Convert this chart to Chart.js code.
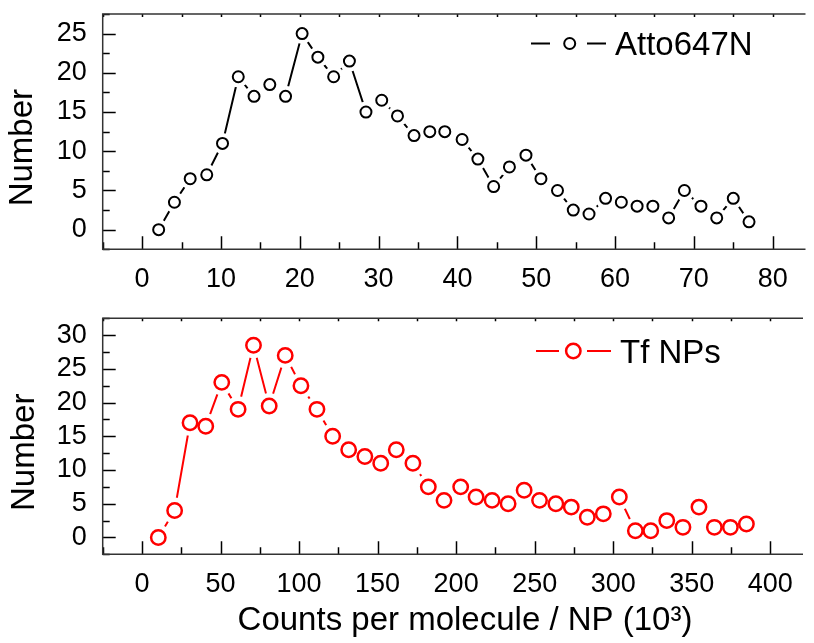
<!DOCTYPE html>
<html><head><meta charset="utf-8">
<script src="https://cdn.jsdelivr.net/npm/chart.js@4.4.0/dist/chart.umd.min.js"></script>
<style>
html,body{margin:0;padding:0;background:#fff;overflow:hidden;width:814px;height:643px;position:relative;}
canvas{position:absolute;left:0;}
#c1{top:0}
#c2{top:300px}
</style></head><body>
<canvas id="c1" width="814" height="300"></canvas>
<canvas id="c2" width="814" height="343"></canvas>
<script>
// ---- data ----
const attoX = [2.1,4.1,6.1,8.2,10.2,12.2,14.2,16.2,18.2,20.3,22.3,24.3,26.3,28.4,30.4,32.4,34.5,36.5,38.4,40.6,42.6,44.6,46.6,48.7,50.6,52.7,54.7,56.7,58.8,60.8,62.8,64.8,66.8,68.8,70.9,72.9,75.0,77.0];
const attoY = [0,3.5,6.5,7,11,19.5,17,18.5,17,25,22,19.5,21.5,15,16.5,14.5,12,12.5,12.5,11.5,9,5.5,8,9.5,6.5,5,2.5,2,4,3.5,3,3,1.5,5,3,1.5,4,1];
const tfX = [10.4,20.8,30.6,40.6,50.8,61.2,71,81,91.2,101.2,111.4,121.4,131.6,141.9,152,161.9,172.5,182.3,192.3,202.9,212.7,222.9,233.1,243.3,253.1,263.5,273.3,283.5,293.7,303.9,314.1,323.9,334.1,344.4,354.6,364.4,374.6,384.8];
const tfY = [0,4,17,16.5,23,19,28.5,19.5,27,22.5,19,15,13,12,11,13,11,7.5,5.5,7.5,6,5.5,5,7,5.5,5,4.5,3,3.5,6,1,1,2.5,1.5,4.5,1.5,1.5,2];
const topXTicks = [0,10,20,30,40,50,60,70,80];
const topYTicks = [0,5,10,15,20,25];
const botXTicks = [0,50,100,150,200,250,300,350,400];
const botYTicks = [0,5,10,15,20,25,30];
const seriesNames = ['Atto647N','Tf NPs'];
const yTitle = 'Number';
const xTitle = 'Counts per molecule / NP (10\u00B3)';

const FONT = "'Liberation Sans', Arial, Helvetica, sans-serif";

function build(id, o) {
  const deco = {
    id: 'deco_' + id,
    afterDraw(chart) {
      const ctx = chart.ctx, a = chart.chartArea, x = chart.scales.x, y = chart.scales.y;
      ctx.save();
      // inward ticks
      ctx.strokeStyle = '#000';
      ctx.lineWidth = 1.5;
      ctx.beginPath();
      for (let v = o.xTickStart; v <= o.xmax + 1e-9; v += o.xMinor) {
        const px = Math.round(x.getPixelForValue(v)) + 0.5;
        const major = Math.abs((v / o.xMajor) - Math.round(v / o.xMajor)) < 1e-6;
        const len = major ? 13 : 7;
        ctx.moveTo(px, a.bottom); ctx.lineTo(px, a.bottom - len);
        ctx.moveTo(px, a.top); ctx.lineTo(px, a.top + 3);
      }
      for (let v = o.ymin; v <= o.ymax + 1e-9; v += o.yMinor) {
        const py = Math.round(y.getPixelForValue(v)) + 0.5;
        const major = Math.abs((v / o.yMajor) - Math.round(v / o.yMajor)) < 1e-6;
        const len = major ? 13 : 7;
        ctx.moveTo(a.left, py); ctx.lineTo(a.left + len, py);
      }
      ctx.stroke();
      // frame (right side lies outside the picture)
      ctx.strokeStyle = '#333';
      ctx.lineWidth = 1.5;
      ctx.beginPath();
      ctx.moveTo(a.right + 2, a.top); ctx.lineTo(a.left, a.top);
      ctx.lineTo(a.left, a.bottom); ctx.lineTo(a.right + 2, a.bottom);
      ctx.stroke();
      // y title
      ctx.fillStyle = '#000';
      ctx.font = '33px ' + FONT;
      ctx.textAlign = 'center';
      ctx.textBaseline = 'middle';
      ctx.translate(o.yTitleX, (a.top + a.bottom) / 2 + 16);
      ctx.rotate(-Math.PI / 2);
      ctx.fillText(yTitle, 0, 0);
      ctx.setTransform(1, 0, 0, 1, 0, 0);
      // x title
      if (o.xTitle) {
        ctx.textAlign = 'center';
        ctx.textBaseline = 'middle';
        ctx.fillText(o.xTitle, a.left + 362.3, o.xTitleY);
      }
      // legend
      const L = o.legend;
      ctx.strokeStyle = o.color;
      ctx.lineWidth = 2;
      ctx.beginPath();
      ctx.moveTo(L.l1[0], L.y); ctx.lineTo(L.l1[1], L.y);
      ctx.moveTo(L.l2[0], L.y); ctx.lineTo(L.l2[1], L.y);
      ctx.stroke();
      ctx.lineWidth = o.bw;
      ctx.beginPath();
      ctx.arc(L.cx, L.y, o.r, 0, Math.PI * 2);
      ctx.fillStyle = '#fff';
      ctx.fill();
      ctx.stroke();
      ctx.fillStyle = '#000';
      ctx.textAlign = 'left';
      ctx.textBaseline = 'alphabetic';
      ctx.font = '33px ' + FONT;
      ctx.fillText(o.name, L.tx, L.ty);
      ctx.restore();
    }
  };
  const pts = o.xs.map((v, i) => ({x: v, y: o.ys[i]}));
  return new Chart(document.getElementById(id), {
    type: 'line',
    data: {
      datasets: [
        { label: o.name, data: pts, showLine: false, pointRadius: o.r, pointBorderWidth: o.bw,
          pointBorderColor: o.color, pointBackgroundColor: '#fff', order: 0 },
        { label: o.name + ' line', data: pts, borderColor: o.color, borderWidth: 2, tension: 0, fill: false,
          pointRadius: o.gap, pointBorderWidth: 0, pointBackgroundColor: '#fff', pointBorderColor: '#fff', order: 1 }
      ]
    },
    options: {
      responsive: false, animation: false, events: [],
      layout: { padding: { left: 0, right: 0, top: o.padT, bottom: 0 } },
      plugins: { legend: { display: false }, tooltip: { enabled: false } },
      scales: {
        x: {
          type: 'linear', min: o.xmin, max: o.xmax,
          grid: { display: false, drawTicks: false }, border: { display: false },
          afterBuildTicks: s => { s.ticks = o.xTicks.map(v => ({ value: v })); },
          afterFit: s => { s.height = o.xH; s.paddingLeft = 0; s.paddingRight = 0; },
          ticks: { autoSkip: false, maxRotation: 0, minRotation: 0, padding: 14, color: '#000',
                   font: { family: FONT, size: 27 }, callback: v => String(v) }
        },
        y: {
          type: 'linear', min: o.ymin, max: o.ymax,
          grid: { display: false, drawTicks: false }, border: { display: false },
          afterBuildTicks: s => { s.ticks = o.yTicks.map(v => ({ value: v })); },
          afterFit: s => { s.width = 102.7; s.paddingTop = 0; s.paddingBottom = 0; },
          ticks: { autoSkip: false, padding: 16, color: '#000',
                   font: { family: FONT, size: 27 }, callback: v => String(v) }
        }
      }
    },
    plugins: [deco]
  });
}

build('c1', {
  name: seriesNames[0], xs: attoX, ys: attoY, color: '#000',
  xmin: -5, xmax: 83.91, xTickStart: -5, ymin: -2.5, ymax: 27.5, xMajor: 10, xMinor: 5, yMajor: 5, yMinor: 2.5,
  xTicks: topXTicks, yTicks: topYTicks, padT: 14, xH: 50.7,
  r: 5.5, bw: 2, gap: 10.5, yTitleX: 22.5,
  legend: { l1: [531, 550], l2: [587, 606], cx: 569.7, y: 43.5, tx: 615, ty: 55 }
});
build('c2', {
  name: seriesNames[1], xs: tfX, ys: tfY, color: '#ff0000',
  xmin: -25, xmax: 419.56, xTickStart: -25, ymin: -2.5, ymax: 32.5, xMajor: 50, xMinor: 25, yMajor: 5, yMinor: 2.5,
  xTicks: botXTicks, yTicks: botYTicks, padT: 18.3, xH: 88.7, xTitle: xTitle, xTitleY: 321,
  r: 7.2, bw: 2.5, gap: 13, yTitleX: 24.5,
  legend: { l1: [536, 559], l2: [587, 611], cx: 573.3, y: 51, tx: 620, ty: 63.3 }
});
</script>
</body></html>
